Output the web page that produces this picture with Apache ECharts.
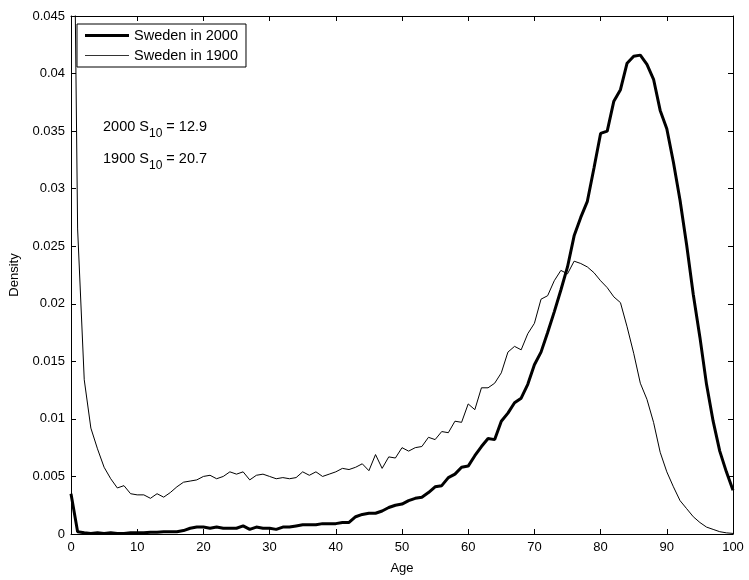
<!DOCTYPE html>
<html>
<head>
<meta charset="utf-8">
<script src="https://cdn.jsdelivr.net/npm/echarts@6/dist/echarts.min.js"></script>
<style>
html, body { margin: 0; padding: 0; background: #fff; }
#chart { width: 749px; height: 580px; }
</style>
</head>
<body>
<div id="chart"></div>
<script>
// ages 0..100
const ages = [];
for (let a = 0; a <= 100; a++) ages.push(a);

// density of age at death
const sweden2000 = [
	0.0035, 0.0002, 0.0001, 0.00005, 0.0001, 0.00005, 0.0001, 0.00005, 0.00005, 0.0001,
	0.0001, 0.0001, 0.00015, 0.00015, 0.0002, 0.0002, 0.0002, 0.0003, 0.0005, 0.0006,
	0.0006, 0.0005, 0.0006, 0.0005, 0.0005, 0.0005, 0.0007, 0.0004, 0.0006, 0.0005,
	0.0005, 0.0004, 0.0006, 0.0006, 0.0007, 0.0008, 0.0008, 0.0008, 0.0009, 0.0009,
	0.0009, 0.0010, 0.0010, 0.0015, 0.0017, 0.0018, 0.0018, 0.0020, 0.0023, 0.0025,
	0.0026, 0.0029, 0.0031, 0.0032, 0.0036, 0.0041, 0.0042, 0.0049, 0.0052, 0.0058,
	0.0059, 0.0068, 0.0076, 0.0083, 0.0082, 0.0098, 0.0105, 0.0114, 0.0118, 0.0130,
	0.0147, 0.0158, 0.0175, 0.0193, 0.0212, 0.0232, 0.0259, 0.0275, 0.0289, 0.0318,
	0.0348, 0.0350, 0.0376, 0.0386, 0.0409, 0.0415, 0.0416, 0.0408, 0.0395, 0.0368,
	0.0352, 0.0323, 0.0290, 0.0251, 0.0208, 0.0171, 0.0130, 0.0098, 0.0072, 0.0054,
	0.0038
];

const sweden1900 = [
	0.0800, 0.0265, 0.0134, 0.0092, 0.0074, 0.0058, 0.0048, 0.0040, 0.0042, 0.0035,
	0.0034, 0.0034, 0.0031, 0.0035, 0.0032, 0.0036, 0.0041, 0.0045, 0.0046, 0.0047,
	0.0050, 0.0051, 0.0048, 0.0050, 0.0054, 0.0052, 0.0054, 0.0047, 0.0051, 0.0052,
	0.0050, 0.0048, 0.0049, 0.0048, 0.0049, 0.0054, 0.0051, 0.0054, 0.0050, 0.0052,
	0.0054, 0.0057, 0.0056, 0.0058, 0.0061, 0.0055, 0.0069, 0.0057, 0.0067, 0.0066,
	0.0075, 0.0072, 0.0075, 0.0076, 0.0084, 0.0082, 0.0089, 0.0088, 0.0098, 0.0097,
	0.0113, 0.0108, 0.0127, 0.0127, 0.0131, 0.0140, 0.0158, 0.0163, 0.0160, 0.0174,
	0.0183, 0.0204, 0.0207, 0.0220, 0.0229, 0.0226, 0.0237, 0.0235, 0.0232, 0.0227,
	0.0220, 0.0214, 0.0206, 0.0201, 0.0180, 0.0157, 0.0131, 0.0117, 0.0097, 0.0071,
	0.0054, 0.0041, 0.0029, 0.0022, 0.0015, 0.0010, 0.0006, 0.0004, 0.0002, 0.0001,
	0.00005
];

const seriesNames = ['Sweden in 2000', 'Sweden in 1900'];
const s10Labels = [['2000', '12.9'], ['1900', '20.7']];

const chart = echarts.init(document.getElementById('chart'));

const font = 'Liberation Sans, Arial, sans-serif';
const axisCommon = {
	axisLine: { show: true, onZero: false, lineStyle: { color: '#000', width: 1 } },
	axisTick: { show: true, inside: true, length: 5, lineStyle: { color: '#000' } },
	splitLine: { show: false }
};

const option = {
	animation: false,
	backgroundColor: '#fff',
	grid: { left: 68, right: 16, top: 16, bottom: 41 },
	legend: {
		orient: 'vertical',
		left: 77,
		top: 24,
		itemWidth: 44,
		itemHeight: 14,
		itemGap: 5,
		padding: [4, 8, 4, 8],
		backgroundColor: '#fff',
		borderColor: '#000',
		borderWidth: 1,
		borderRadius: 0,
		textStyle: { fontFamily: font, fontSize: 14.5, color: '#000' },
		data: [
			{ name: seriesNames[0], icon: 'path://M0,0 H44 V3 H0 Z', itemStyle: { color: '#000' } },
			{ name: seriesNames[1], icon: 'path://M0,0 H44 V1 H0 Z', itemStyle: { color: '#333' } }
		]
	},
	xAxis: [
		Object.assign({
			type: 'value', min: 0, max: 100, interval: 10,
			name: 'Age', nameLocation: 'middle', nameGap: 28,
			nameTextStyle: { fontFamily: font, fontSize: 13, color: '#000' },
			axisLabel: { fontFamily: font, fontSize: 13, color: '#000', margin: 7 }
		}, axisCommon),
		Object.assign({
			type: 'value', min: 0, max: 100, interval: 10, position: 'top',
			axisLabel: { show: false }
		}, axisCommon)
	],
	yAxis: [
		Object.assign({
			type: 'value', min: 0, max: 0.045, interval: 0.005,
			name: 'Density', nameLocation: 'middle', nameGap: 50,
			nameTextStyle: { fontFamily: font, fontSize: 13, color: '#000' },
			axisLabel: { fontFamily: font, fontSize: 13, color: '#000', margin: 6 }
		}, axisCommon),
		Object.assign({
			type: 'value', min: 0, max: 0.045, interval: 0.005, position: 'right',
			axisLabel: { show: false }
		}, axisCommon)
	],
	graphic: s10Labels.map((item, i) => ({
		type: 'text',
		left: 103,
		top: 119 + i * 32,
		style: {
			text: `{t|${item[0]} S}{sub|10}{t| = ${item[1]}}`,
			rich: {
				t: { fontFamily: font, fontSize: 14.5, fill: '#000', verticalAlign: 'top', lineHeight: 17 },
				sub: { fontFamily: font, fontSize: 12, fill: '#000', verticalAlign: 'bottom', lineHeight: 21 }
			}
		}
	})),
	series: [
		{
			name: seriesNames[0],
			type: 'line',
			symbol: 'none',
			lineStyle: { color: '#000', width: 3 },
			itemStyle: { color: '#000' },
			data: ages.map((a, i) => [a, sweden2000[i]]),
			z: 3
		},
		{
			name: seriesNames[1],
			type: 'line',
			symbol: 'none',
			lineStyle: { color: '#000', width: 1 },
			itemStyle: { color: '#000' },
			data: ages.map((a, i) => [a, sweden1900[i]]),
			z: 2
		}
	]
};

chart.setOption(option);
</script>
</body>
</html>
